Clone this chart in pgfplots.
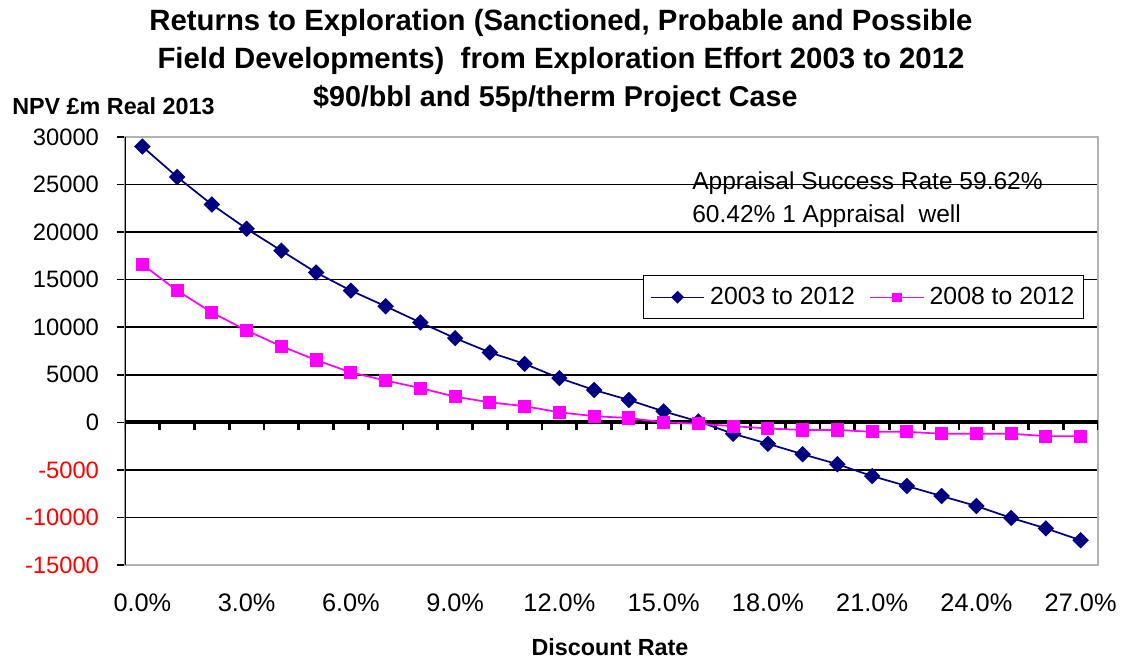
\documentclass[border=0pt]{standalone}
\usepackage{fontspec}
\setmainfont{Liberation Sans}
\usepackage{pgfplots}
\pgfplotsset{compat=1.18}
\definecolor{navy}{RGB}{0,0,128}
\definecolor{mag}{RGB}{255,0,255}
\begin{document}
\begin{tikzpicture}[x=1pt,y=1pt]
\useasboundingbox (0,0) rectangle (841.5,-495.75);
% title
\node[anchor=base,font=\bfseries\fontsize{22}{26}\selectfont] at (420.75,-22.5) {Returns to Exploration (Sanctioned, Probable and Possible};
\node[anchor=base,font=\bfseries\fontsize{22}{26}\selectfont] at (420.75,-51) {Field Developments)\ \ from Exploration Effort 2003 to 2012};
\node[anchor=base,font=\bfseries\fontsize{21.5}{26}\selectfont] at (416.5,-79.5) {\$90/bbl and 55p/therm Project Case};
\node[anchor=base west,font=\bfseries\fontsize{17.5}{20}\selectfont,inner sep=0pt] at (9,-86) {NPV £m Real 2013};
\node[anchor=base,font=\bfseries\fontsize{17.5}{20}\selectfont] at (457.5,-491.25) {Discount Rate};
\begin{axis}[
  at={(93.75pt,-423.75pt)}, anchor=south west,
  scale only axis, width=729.75pt, height=321pt,
  xmin=-0.5, xmax=27.5, ymin=-15000, ymax=30000,
  scaled y ticks=false,
  axis line style={draw=gray!60, line width=1.2pt},
  ytick={-15000,-10000,-5000,0,5000,10000,15000,20000,25000,30000},
  yticklabels={\textcolor{red}{-15000},\textcolor{red}{-10000},\textcolor{red}{-5000},0,5000,10000,15000,20000,25000,30000},
  xtick={0,3,...,27},
  xticklabels={0.0\%,3.0\%,6.0\%,9.0\%,12.0\%,15.0\%,18.0\%,21.0\%,24.0\%,27.0\%},
  ymajorgrids, major grid style={black, line width=1.1pt},
  ytick pos=left, xtick pos=bottom,
  ytick style={black, line width=1.2pt}, xtick style={draw=none},
  tick align=outside, major tick length=6pt,
  yticklabel style={font=\fontsize{17.8}{20}\selectfont, xshift=-10pt},
  xticklabel style={font=\fontsize{19}{22}\selectfont, yshift=-12pt},
  legend style={at={(0.5324,0.6776)}, anchor=north west, draw=black, line width=0.8pt,
    font=\fontsize{18.6}{21}\selectfont, inner xsep=5pt, inner ysep=7pt,
    /tikz/every odd column/.append style={column sep=2pt},
    /tikz/every even column/.append style={column sep=9pt}},
  legend columns=2,
  legend image code/.code={\draw[mark repeat=2,mark phase=2,#1,line width=1pt,mark size=2.9pt] plot coordinates {(0pt,0pt) (20pt,0pt) (40pt,0pt)};},
]
\draw[line width=3pt,black] (axis cs:-0.5,0) -- (axis cs:27.5,0);
\pgfplotsinvokeforeach{-0.5,0.5,...,27.5}{
  \draw[line width=2.2pt,black] (axis cs:#1,0) -- ([yshift=-6pt]axis cs:#1,0);
}
\draw[black,line width=1.5pt] (rel axis cs:0,0) -- (rel axis cs:0,1);
\addplot[navy, line width=1.3pt, mark=square*, mark size=3.7pt, mark options={rotate=45,fill=navy,draw=navy}] coordinates {
(0,29000)(1,25800)(2,22900)(3,20350)(4,18050)(5,15750)(6,13850)(7,12200)(8,10500)(9,8850)
(10,7350)(11,6150)(12,4650)(13,3400)(14,2350)(15,1150)(16,100)(17,-1200)(18,-2250)(19,-3350)
(20,-4400)(21,-5650)(22,-6700)(23,-7750)(24,-8800)(25,-10050)(26,-11150)(27,-12400)};
\addlegendentry{2003 to 2012}
\addplot[mag, line width=1.3pt, mark=square*, mark size=4.3pt, mark options={fill=mag,draw=mag}] coordinates {
(0,16600)(1,13850)(2,11550)(3,9650)(4,8000)(5,6550)(6,5250)(7,4400)(8,3600)(9,2700)
(10,2100)(11,1700)(12,1050)(13,650)(14,450)(15,0)(16,-150)(17,-400)(18,-650)(19,-800)
(20,-800)(21,-1000)(22,-1000)(23,-1200)(24,-1200)(25,-1200)(26,-1450)(27,-1450)};
\addlegendentry{2008 to 2012}
\end{axis}
\node[anchor=base west,font=\fontsize{18.4}{21}\selectfont,inner sep=0pt] at (519,-142) {Appraisal Success Rate 59.62\%};
\node[anchor=base west,font=\fontsize{18.4}{21}\selectfont,inner sep=0pt] at (519,-166.5) {60.42\% 1 Appraisal\ \ well};
\end{tikzpicture}
\end{document}
